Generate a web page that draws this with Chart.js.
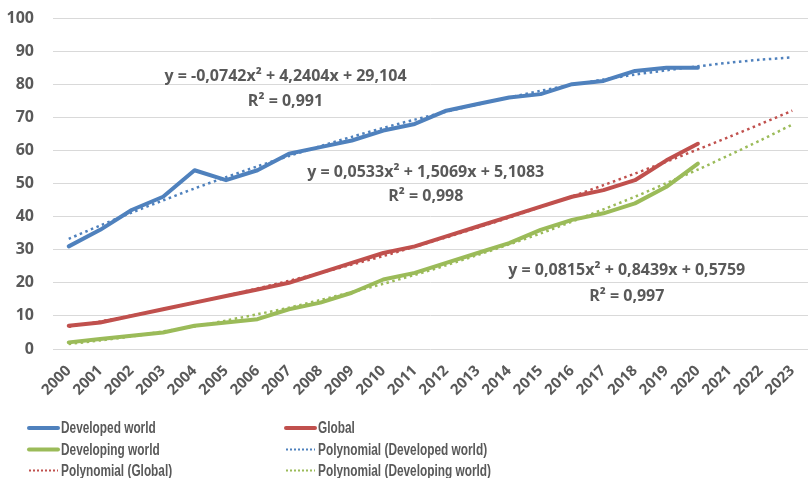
<!DOCTYPE html>
<html>
<head>
<meta charset="utf-8">
<script src="https://cdn.jsdelivr.net/npm/chart.js@4/dist/chart.umd.min.js"></script>
<style>
  html, body { margin: 0; padding: 0; background: #ffffff; }
  #wrap { width: 810px; height: 478px; }
</style>
</head>
<body>
<div id="wrap"><canvas id="chart" width="810" height="478"></canvas></div>
<script>
// Years on the category axis (observations 2000–2020, trend projected to 2023)
const years = ['2000','2001','2002','2003','2004','2005','2006','2007','2008','2009','2010','2011',
               '2012','2013','2014','2015','2016','2017','2018','2019','2020','2021','2022','2023'];

// Observed series, 2000–2020
const developedWorld  = [31, 36, 42, 46, 54, 51, 54, 59, 61, 63, 66, 68, 72, 74, 76, 77, 80, 81, 84, 85, 85];
const globalSeries    = [7, 8, 10, 12, 14, 16, 18, 20, 23, 26, 29, 31, 34, 37, 40, 43, 46, 48, 51, 57, 62];
const developingWorld = [2, 3, 4, 5, 7, 8, 9, 12, 14, 17, 21, 23, 26, 29, 32, 36, 39, 41, 44, 49, 56];

// Second-order polynomial trend values, 2000–2023
const trendDeveloped  = [33.3, 37.3, 41.2, 44.9, 48.5, 51.9, 55.2, 58.3, 61.3, 64.1, 66.8, 69.3,
                         71.7, 73.9, 76.0, 78.0, 79.8, 81.4, 82.9, 84.2, 85.4, 86.5, 87.4, 88.1];
const trendGlobal     = [6.7, 8.3, 10.1, 12.0, 14.0, 16.1, 18.3, 20.6, 23.0, 25.5, 28.1, 30.9,
                         33.7, 36.7, 39.7, 42.9, 46.1, 49.5, 53.0, 56.6, 60.3, 64.1, 68.0, 72.0];
const trendDeveloping = [1.5, 2.6, 3.8, 5.3, 6.8, 8.6, 10.5, 12.5, 14.8, 17.2, 19.7, 22.4,
                         25.3, 28.4, 31.6, 34.9, 38.5, 42.2, 46.0, 50.1, 54.2, 58.6, 63.1, 67.8];

// Y axis ticks
const yTicks = [0, 10, 20, 30, 40, 50, 60, 70, 80, 90, 100];

// Trendline equation labels
const equationLines = [
  ['y = -0,0742x² + 4,2404x + 29,104', 'R² = 0,991'],
  ['y = 0,0533x² + 1,5069x + 5,1083', 'R² = 0,998'],
  ['y = 0,0815x² + 0,8439x + 0,5759', 'R² = 0,997']
];

const BLUE = '#4F81BD', RED = '#C0504D', GREEN = '#9BBB59';
const TEXT = '#595959';
const FONT = '"Open Sans", "Noto Sans", sans-serif';
const LEGEND_FONT = 'bold 16px "Liberation Sans", sans-serif';

function solid(label, data, color) {
  return { label, data, borderColor: color, backgroundColor: color, borderWidth: 4,
           pointRadius: 0, tension: 0, borderCapStyle: 'round', borderJoinStyle: 'round',
           order: 1, fill: false };
}
function dotted(label, data, color) {
  return { label, data, borderColor: color, backgroundColor: color, borderWidth: 2.5,
           borderDash: [2.5, 3.5], pointRadius: 0, tension: 0.3, order: 2, fill: false, dotted: true };
}

// Equation labels, anchored in data units (category index, value)
const labelAnchors = [
  { x: 6.89, y: 82.2, y2: 74.9 },
  { x: 11.35, y: 53.2, y2: 46.2 },
  { x: 17.74, y: 23.6, y2: 16.0 }
];

const equationPlugin = {
  id: 'equations',
  afterDatasetsDraw(chart) {
    const { ctx, scales: { x, y } } = chart;
    ctx.save();
    ctx.fillStyle = TEXT;
    ctx.font = 'bold 16px ' + FONT;
    ctx.textAlign = 'center';
    ctx.textBaseline = 'middle';
    equationLines.forEach((lines, i) => {
      const a = labelAnchors[i];
      const px = x.getPixelForValue(a.x);
      ctx.fillText(lines[0], px, y.getPixelForValue(a.y), 252);
      ctx.fillText(lines[1], px, y.getPixelForValue(a.y2), 79);
    });
    ctx.restore();
  }
};

// Two-column legend under the axis labels, condensed lettering
const legendPlugin = {
  id: 'twoColLegend',
  afterDraw(chart) {
    const { ctx } = chart;
    const ds = chart.data.datasets;
    const cols = [28, 285];
    const rows = [428, 449.5, 470.5];
    const sampleLen = 30;
    const squeeze = 0.74;
    ctx.save();
    ds.forEach((d, i) => {
      const cx = cols[i % 2];
      const cy = rows[Math.floor(i / 2)];
      ctx.beginPath();
      ctx.strokeStyle = d.borderColor;
      if (d.dotted) {
        ctx.lineWidth = 2;
        ctx.setLineDash([2, 2]);
        ctx.lineCap = 'butt';
      } else {
        ctx.lineWidth = 4;
        ctx.setLineDash([]);
        ctx.lineCap = 'round';
      }
      ctx.moveTo(cx + 1, cy);
      ctx.lineTo(cx + sampleLen, cy);
      ctx.stroke();
      ctx.setLineDash([]);
      ctx.save();
      ctx.translate(cx + sampleLen + 3, cy);
      ctx.scale(squeeze, 1);
      ctx.fillStyle = TEXT;
      ctx.font = LEGEND_FONT;
      ctx.textAlign = 'left';
      ctx.textBaseline = 'middle';
      ctx.fillText(d.label, 0, 1);
      ctx.restore();
    });
    ctx.restore();
  }
};

new Chart(document.getElementById('chart'), {
  type: 'line',
  data: {
    labels: years,
    datasets: [
      solid('Developed world', developedWorld, BLUE),
      solid('Global', globalSeries, RED),
      solid('Developing world', developingWorld, GREEN),
      dotted('Polynomial (Developed world)', trendDeveloped, BLUE),
      dotted('Polynomial (Global)', trendGlobal, RED),
      dotted('Polynomial (Developing world)', trendDeveloping, GREEN)
    ]
  },
  options: {
    responsive: false,
    devicePixelRatio: 1,
    animation: false,
    layout: { padding: { top: 18, right: 1, left: 0, bottom: 0 } },
    plugins: { legend: { display: false }, tooltip: { enabled: false } },
    scales: {
      x: {
        offset: true,
        grid: { display: false },
        border: { display: false },
        ticks: {
          color: TEXT, font: { family: FONT, size: 15, weight: 'bold' },
          minRotation: 45, maxRotation: 45, autoSkip: false, padding: 5
        },
        afterFit(scale) { scale.height = 129; }
      },
      y: {
        min: 0, max: 100,
        afterBuildTicks(scale) { scale.ticks = yTicks.map(v => ({ value: v })); },
        grid: { color: '#D9D9D9', lineWidth: 1, drawTicks: true, tickLength: 18, tickColor: 'rgba(0,0,0,0)' },
        border: { display: false },
        ticks: { color: TEXT, font: { family: FONT, size: 16, weight: 'bold' }, padding: 1 },
        afterFit(scale) { scale.width = 53; }
      }
    }
  },
  plugins: [equationPlugin, legendPlugin]
});
</script>
</body>
</html>
